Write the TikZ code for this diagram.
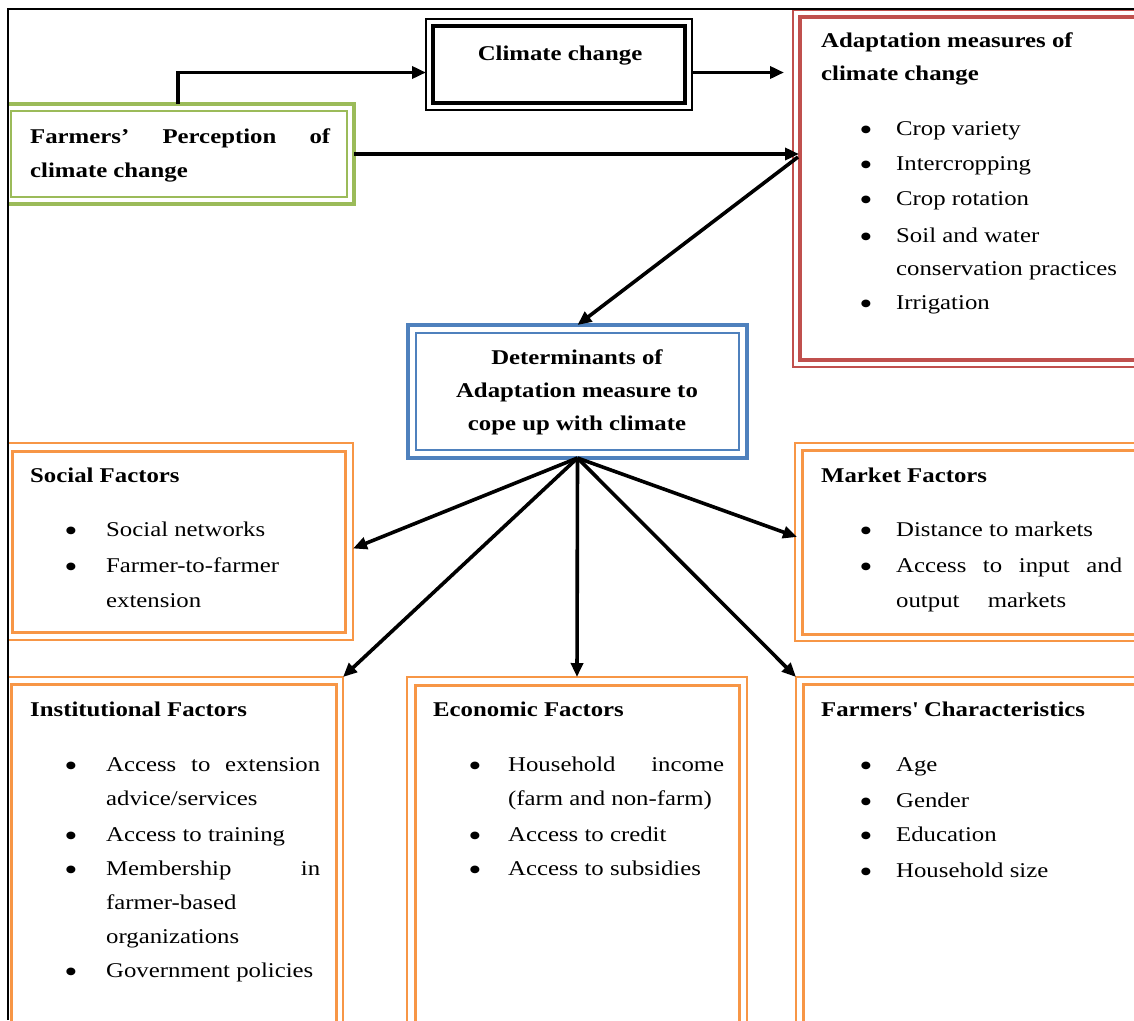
\documentclass[tikz,border=0pt]{standalone}
\usepackage{fontspec}
\setmainfont[FakeStretch=1.18]{Liberation Serif}
\usetikzlibrary{arrows.meta,calc}
\definecolor{cgreen}{HTML}{9BBB59}
\definecolor{cred}{HTML}{C0504D}
\definecolor{cblue}{HTML}{4F81BD}
\definecolor{corange}{HTML}{F79646}
\newcommand{\dblbox}[9]{%
  \node[draw=#6, line width=#7pt, rectangle, inner sep=0pt, outer sep=0pt,
        minimum width=#4pt, minimum height=#5pt, anchor=north west] (#1) at (#2,#3) {};
  \draw[#6, line width=#8pt] ([shift={(#9,#9)}]#1.north west) rectangle ([shift={(-#9,-#9)}]#1.south east);}
\newcommand{\bitem}[5]{%
  \node[bul] (#1b) at (#2,#4-2) {•};
  \node[txt] (#1) at (#3,#4) {#5};}
\begin{document}
\begin{tikzpicture}[x=1pt,y=-1pt,
  txt/.style={font=\fontsize{21}{34}\selectfont, inner sep=0pt, anchor=base west},
  ttl/.style={txt, font=\fontsize{21}{34}\selectfont\bfseries},
  bul/.style={font=\fontsize{32}{32}\selectfont, inner sep=0pt, anchor=center},
  arr/.style={line width=3.6pt, -{Triangle[length=14pt,width=12pt]}}]
\useasboundingbox (0,0) rectangle (1134,1020);
\begin{scope}
\clip (8,9) rectangle (1134,1020);
\dblbox{percep}{4}{104}{350}{100}{cgreen}{4}{2}{7}
\dblbox{cc}{426}{19}{266}{91}{black}{1.5}{3.5}{7}
\dblbox{adapt}{793}{10}{360}{357}{cred}{1.5}{3.5}{7}
\dblbox{determ}{408}{325}{339}{133}{cblue}{3.5}{1.5}{8}
\dblbox{social}{4}{443}{349}{197}{corange}{2.5}{3}{8}
\dblbox{market}{795}{443}{360}{198}{corange}{2.5}{3}{7}
\dblbox{inst}{4}{677}{339}{363}{corange}{2.5}{3}{7}
\dblbox{econ}{407}{677}{340}{363}{corange}{2.5}{3}{8}
\dblbox{fchar}{796}{677}{360}{363}{corange}{2.5}{3}{7}
\end{scope}
\draw[line width=2pt] (8,1020) -- (8,9) -- (1134,9);

% Farmers' perception
\node[ttl] (pt1) at (30,143) {\hbox to 300pt{Farmers’\hfill Perception\hfill of}};
\node[ttl] (pt2) at (30,177) {climate change};
% Climate change
\node[ttl, anchor=base] (cct) at (560,60) {Climate change};
% Adaptation
\node[ttl] (at1) at (821,47) {Adaptation measures of};
\node[ttl] (at2) at (821,80) {climate change};
\bitem{a1}{866}{896}{135}{Crop variety}
\bitem{a2}{866}{896}{170}{Intercropping}
\bitem{a3}{866}{896}{205}{Crop rotation}
\bitem{a4}{866}{896}{242}{Soil and water}
\node[txt] (a4c) at (896,275) {conservation practices};
\bitem{a5}{866}{896}{309}{Irrigation}
% Determinants
\node[ttl, anchor=base] (dt1) at (577,364) {Determinants of};
\node[ttl, anchor=base] (dt2) at (577,397) {Adaptation measure to};
\node[ttl, anchor=base] (dt3) at (577,430) {cope up with climate};
% Social
\node[ttl] (st) at (30,482) {Social Factors};
\bitem{s1}{71}{106}{536}{Social networks}
\bitem{s2}{71}{106}{572}{Farmer-to-farmer}
\node[txt] (s2c) at (106,607) {extension};
% Market
\node[ttl] (mt) at (821,482) {Market Factors};
\bitem{m1}{866}{896}{536}{Distance to markets}
\bitem{m2}{866}{896}{572}{\hbox to 226pt{Access\hfill to\hfill input\hfill and}}
\node[txt] (m2c) at (896,607) {\hbox to 170pt{output\hfill markets}};
% Institutional
\node[ttl] (it) at (30,716) {Institutional Factors};
\bitem{i1}{71}{106}{771}{\hbox to 214pt{Access\hfill to\hfill extension}}
\node[txt] (i1c) at (106,805) {advice/services};
\bitem{i2}{71}{106}{841}{Access to training}
\bitem{i3}{71}{106}{875}{\hbox to 214pt{Membership\hfill in}}
\node[txt] (i3c) at (106,909) {farmer-based};
\node[txt] (i3d) at (106,943) {organizations};
\bitem{i4}{71}{106}{977}{Government policies}
% Economic
\node[ttl] (et) at (433,716) {Economic Factors};
\bitem{e1}{475}{508}{771}{\hbox to 216pt{Household\hfill income}}
\node[txt] (e1c) at (508,805) {(farm and non-farm)};
\bitem{e2}{475}{508}{841}{Access to credit}
\bitem{e3}{475}{508}{875}{Access to subsidies}
% Farmers' characteristics
\node[ttl] (ft) at (821,716) {Farmers\textquotesingle{} Characteristics};
\bitem{f1}{866}{896}{771}{Age}
\bitem{f2}{866}{896}{807}{Gender}
\bitem{f3}{866}{896}{841}{Education}
\bitem{f4}{866}{896}{877}{Household size}

% Connectors
\draw[arr] ($(percep.north west)+(174,0)$) |- ([yshift=-8pt]cc.west);
\draw[arr, shorten >=9pt] ([yshift=-8pt]cc.east) -- ([yshift=-8pt]cc.east -| adapt.west);
\draw[arr, shorten >=-6pt] (percep.east) -- (percep.east -| adapt.west);
\draw[arr] ($(percep.east -| adapt.west)+(5,3)$) -- (determ.north);
\draw[arr] (determ.south) -- ($(social.east)+(0,7)$);
\draw[arr] (determ.south) -- (inst.north east);
\draw[arr] (determ.south) -- (econ.north);
\draw[arr] (determ.south) -- ($(market.west)+(2,-5)$);
\draw[arr] (determ.south) -- (fchar.north west);
\end{tikzpicture}
\end{document}
